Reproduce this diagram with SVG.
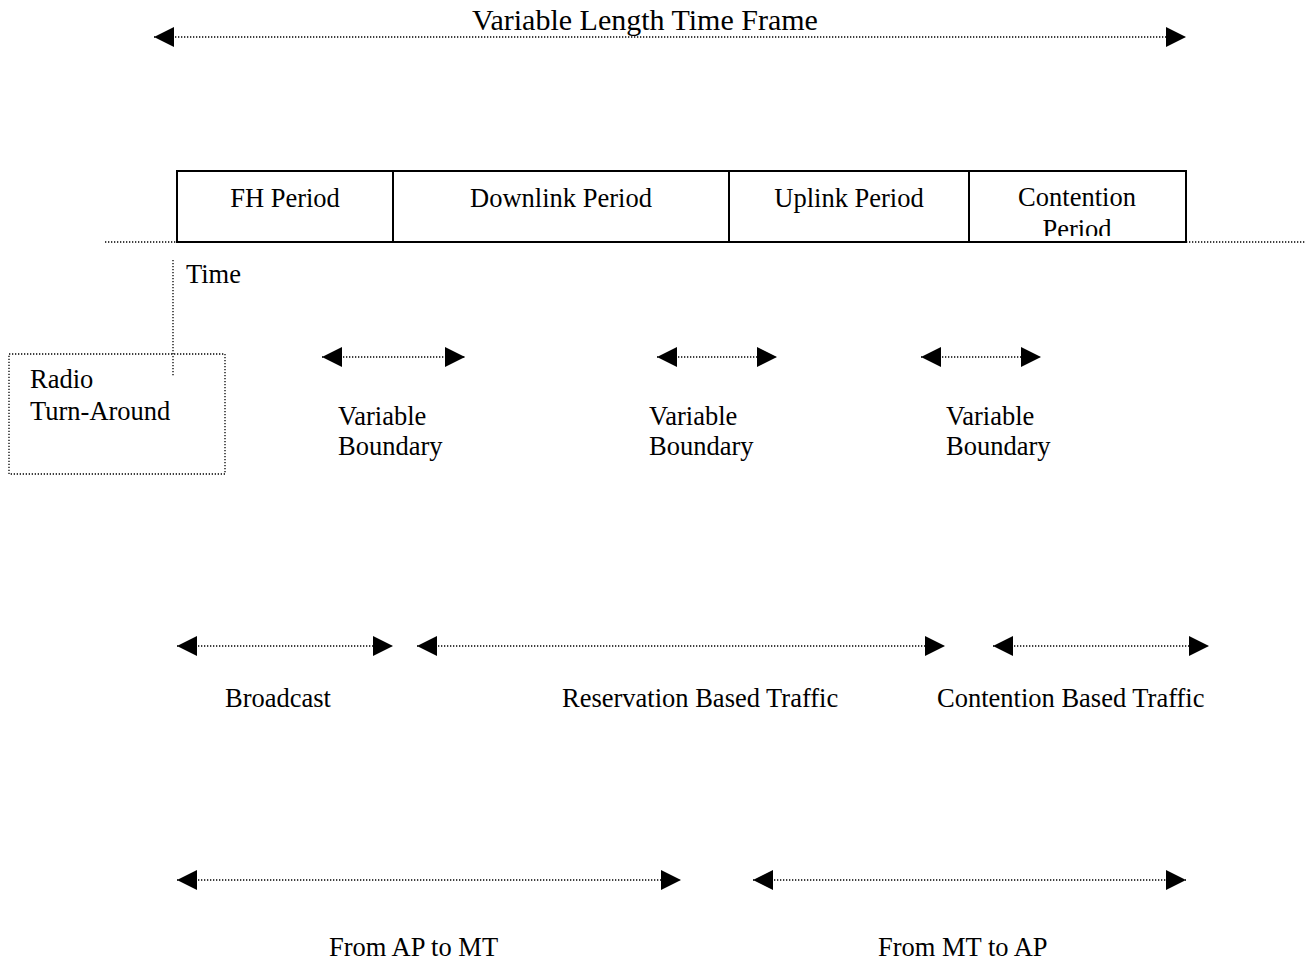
<svg xmlns="http://www.w3.org/2000/svg" width="1313" height="965" viewBox="0 0 1313 965">
  <style>
    text { font-family: "Liberation Serif", "Times New Roman", serif; font-size: 26.5px; fill: #000; }
    .mid { text-anchor: middle; }
    .title { font-size: 30px; }
    .dot { stroke: #000; stroke-width: 1.3; stroke-dasharray: 1.3 1.7; fill: none; }
    .arrow { stroke: #000; stroke-width: 1.3; stroke-dasharray: 1.3 1.7; fill: none; marker-start: url(#head); marker-end: url(#head); }
    .cell { fill: #fff; stroke: #000; stroke-width: 2; }
  </style>
  <defs>
    <marker id="head" viewBox="0 0 20 20" refX="20" refY="10" markerWidth="20" markerHeight="20" markerUnits="userSpaceOnUse" orient="auto-start-reverse">
      <path d="M0,0 L20,10 L0,20 z" fill="#000"/>
    </marker>
    <!-- the second line of the last cell is cut by its text frame -->
    <clipPath id="cellClip">
      <rect x="970" y="172" width="215" height="64"/>
    </clipPath>
  </defs>

  <!-- frame span -->
  <g id="frame-span">
    <text class="mid title" x="645" y="30">Variable Length Time Frame</text>
  </g>

  <!-- time axis -->
  <g id="time-axis">
    <line class="dot" x1="105" y1="242" x2="177" y2="242"/>
    <line class="dot" x1="1186" y1="242" x2="1306" y2="242"/>
    <line class="dot" x1="173" y1="260" x2="173" y2="376"/>
    <text x="186" y="283">Time</text>
  </g>

  <!-- frame periods -->
  <g id="fh-period">
    <rect class="cell" x="177" y="171" width="216" height="71"/>
    <text class="mid" x="285" y="207">FH Period</text>
  </g>
  <g id="downlink-period">
    <rect class="cell" x="393" y="171" width="336" height="71"/>
    <text class="mid" x="561" y="207">Downlink Period</text>
  </g>
  <g id="uplink-period">
    <rect class="cell" x="729" y="171" width="240" height="71"/>
    <text class="mid" x="849" y="207">Uplink Period</text>
  </g>
  <g id="contention-period">
    <rect class="cell" x="969" y="171" width="217" height="71"/>
    <g clip-path="url(#cellClip)">
      <text class="mid" x="1077" y="206">Contention</text>
      <text class="mid" x="1077" y="238">Period</text>
    </g>
  </g>

  <!-- radio turn-around note -->
  <g id="radio-turnaround">
    <rect class="dot" x="9" y="354" width="216" height="120"/>
    <text x="30" y="388">Radio</text>
    <text x="30" y="420">Turn-Around</text>
  </g>

  <!-- labels -->
  <g id="boundary-1">
    <text x="338" y="425">Variable</text>
    <text x="338" y="455">Boundary</text>
  </g>
  <g id="boundary-2">
    <text x="649" y="425">Variable</text>
    <text x="649" y="455">Boundary</text>
  </g>
  <g id="boundary-3">
    <text x="946" y="425">Variable</text>
    <text x="946" y="455">Boundary</text>
  </g>
  <g id="broadcast">
    <text x="225" y="707">Broadcast</text>
  </g>
  <g id="reservation-traffic">
    <text x="562" y="707">Reservation Based Traffic</text>
  </g>
  <g id="contention-traffic">
    <text x="937" y="707">Contention Based Traffic</text>
  </g>
  <g id="ap-to-mt">
    <text x="329" y="956">From AP to MT</text>
  </g>
  <g id="mt-to-ap">
    <text x="878" y="956">From MT to AP</text>
  </g>

  <!-- connectors -->
  <g id="connectors">
    <line class="arrow" x1="154" y1="37" x2="1186" y2="37"/>
    <line class="arrow" x1="322" y1="357" x2="465" y2="357"/>
    <line class="arrow" x1="657" y1="357" x2="777" y2="357"/>
    <line class="arrow" x1="921" y1="357" x2="1041" y2="357"/>
    <line class="arrow" x1="177" y1="646" x2="393" y2="646"/>
    <line class="arrow" x1="417" y1="646" x2="945" y2="646"/>
    <line class="arrow" x1="993" y1="646" x2="1209" y2="646"/>
    <line class="arrow" x1="177" y1="880" x2="681" y2="880"/>
    <line class="arrow" x1="753" y1="880" x2="1186" y2="880"/>
  </g>
</svg>
